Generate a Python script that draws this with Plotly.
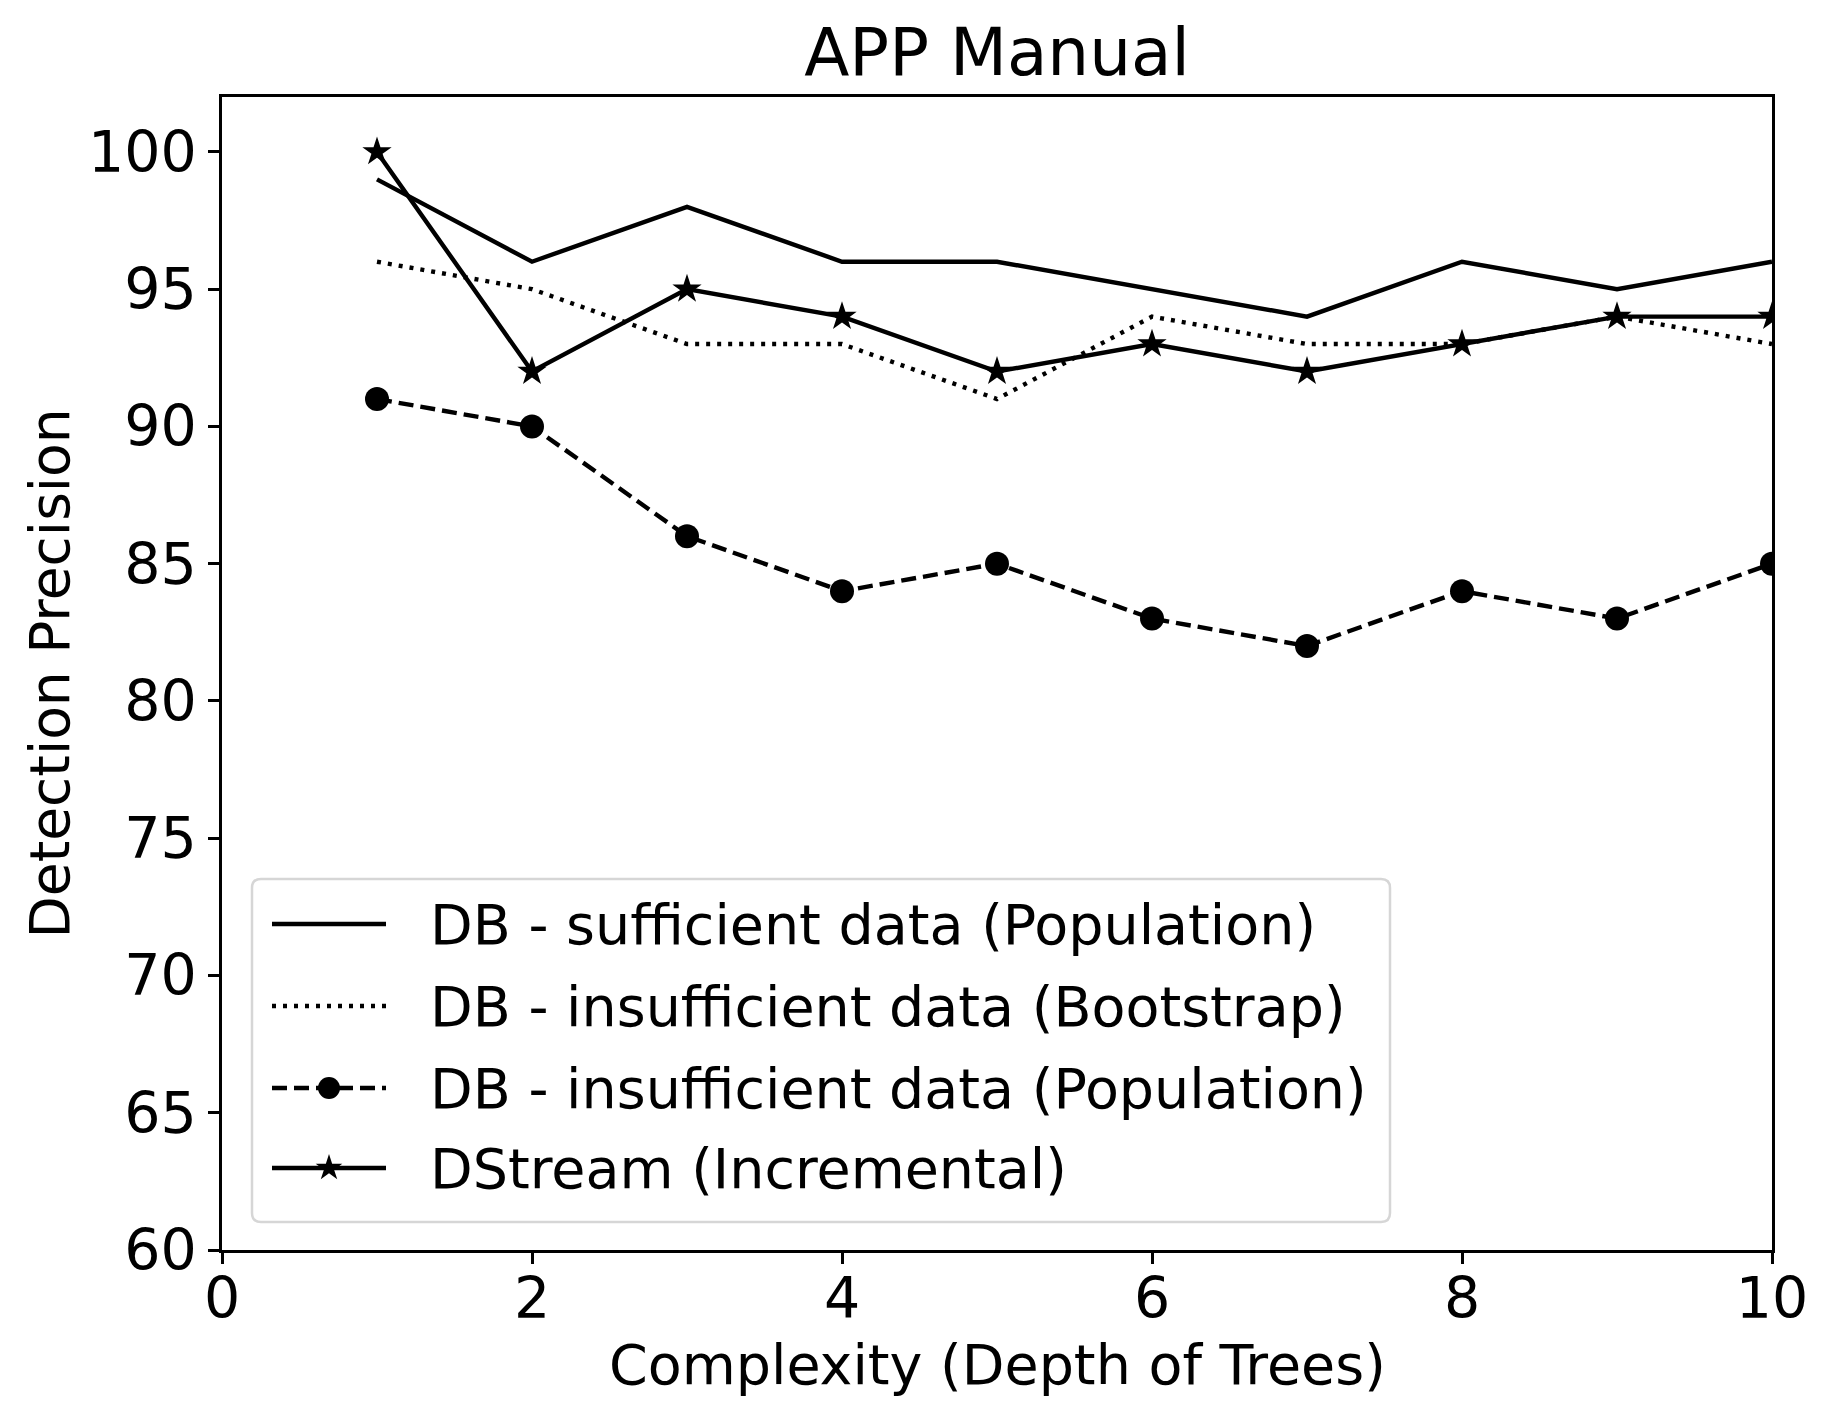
import plotly.graph_objects as go

depth = [1, 2, 3, 4, 5, 6, 7, 8, 9, 10]
db_sufficient_population = [99, 96, 98, 96, 96, 95, 94, 96, 95, 96]
db_insufficient_bootstrap = [96, 95, 93, 93, 91, 94, 93, 93, 94, 93]
db_insufficient_population = [91, 90, 86, 84, 85, 83, 82, 84, 83, 85]
dstream_incremental = [100, 92, 95, 94, 92, 93, 92, 93, 94, 94]

names = [
    "DB - sufficient data (Population)",
    "DB - insufficient data (Bootstrap)",
    "DB - insufficient data (Population)",
    "DStream (Incremental)",
]

FONT = "DejaVu Sans"
LW = 4.4
DOT = "4px,7px"
DASH = "15px,7px"

W, H = 1833, 1422
L, R, T, B = 222, 1772, 97, 1250
pw, ph = R - L, B - T


def px_x(px):
    return (px - L) / pw


def px_y(py):
    return (B - py) / ph


styles = [
    dict(dash="solid", symbol=None, msize=0),
    dict(dash=DOT, symbol=None, msize=0),
    dict(dash=DASH, symbol="circle", msize=24),
    dict(dash="solid", symbol="star", msize=22),
]
series = [db_sufficient_population, db_insufficient_bootstrap,
          db_insufficient_population, dstream_incremental]

fig = go.Figure()
for name, ys, st in zip(names, series, styles):
    kw = dict(x=depth, y=ys, name=name, showlegend=False,
              line=dict(color="black", width=LW, dash=st["dash"]))
    if st["symbol"]:
        kw["mode"] = "lines+markers"
        kw["marker"] = dict(symbol=st["symbol"], size=st["msize"], color="black", opacity=1)
    else:
        kw["mode"] = "lines"
    fig.add_trace(go.Scatter(**kw))

# ---- hand-built legend (matplotlib style: long sample lines) ----
leg_l, leg_r, leg_t, leg_b = 252, 1390, 879, 1222
row_y = [924, 1006, 1088, 1168]
samp_x0, samp_x1 = 272, 386
text_x = 428
rad = 9

x0, x1 = px_x(leg_l), px_x(leg_r)
y0, y1 = px_y(leg_b), px_y(leg_t)
rx, ry = rad / pw, rad / ph
path = (f"M {x0 + rx},{y1} L {x1 - rx},{y1} Q {x1},{y1} {x1},{y1 - ry} "
        f"L {x1},{y0 + ry} Q {x1},{y0} {x1 - rx},{y0} L {x0 + rx},{y0} "
        f"Q {x0},{y0} {x0},{y0 + ry} L {x0},{y1 - ry} Q {x0},{y1} {x0 + rx},{y1} Z")
shapes = [dict(type="path", path=path, xref="paper", yref="paper", layer="below",
               fillcolor="white", line=dict(color="#d6d6d6", width=2.5))]
annotations = []
for name, st, yy in zip(names, styles, row_y):
    shapes.append(dict(type="line", xref="paper", yref="paper", layer="below",
                       x0=px_x(samp_x0), x1=px_x(samp_x1), y0=px_y(yy), y1=px_y(yy),
                       line=dict(color="black", width=LW, dash=st["dash"])))
    annotations.append(dict(text=name, xref="paper", yref="paper", x=px_x(text_x), y=px_y(yy),
                            xanchor="left", yanchor="middle", showarrow=False,
                            font=dict(family=FONT, size=55.5, color="black")))
    if st["symbol"]:
        fig.add_trace(go.Scatter(x=[(samp_x0 + samp_x1) / 2], y=[yy], mode="markers",
                                 xaxis="x2", yaxis="y2", showlegend=False, hoverinfo="skip",
                                 cliponaxis=False,
                                 marker=dict(symbol=st["symbol"], size=st["msize"] - 2,
                                             color="black", opacity=1)))

axis_common = dict(
    showline=True, linecolor="black", linewidth=2.8, mirror=True,
    ticks="outside", ticklen=11, tickwidth=2.8, tickcolor="black",
    showgrid=False, zeroline=False,
    tickfont=dict(family=FONT, size=57, color="black"),
)

annotations += [
    dict(text="Complexity (Depth of Trees)", xref="paper", yref="paper",
         x=0.5, y=-(1364 - B) / ph, xanchor="center", yanchor="middle",
         showarrow=False, font=dict(family=FONT, size=55.5, color="black")),
    dict(text="Detection Precision", xref="paper", yref="paper",
         x=-(L - 49) / pw, y=0.5, xanchor="center", yanchor="middle", textangle=-90,
         showarrow=False, font=dict(family=FONT, size=55, color="black")),
]

fig.update_layout(
    width=W, height=H,
    margin=dict(l=L, r=W - R, t=T, b=H - B),
    paper_bgcolor="white", plot_bgcolor="rgba(0,0,0,0)",
    font=dict(family=FONT, color="black"),
    title=dict(text="APP Manual", x=(L + R) / 2 / W, xanchor="center",
               y=1 - 52 / H, yanchor="middle",
               font=dict(family=FONT, size=66, color="black")),
    xaxis=dict(range=[0, 10], tickvals=[0, 2, 4, 6, 8, 10], ticklabelstandoff=-14, **axis_common),
    yaxis=dict(range=[60, 102], tickvals=[60, 65, 70, 75, 80, 85, 90, 95, 100], ticklabelstandoff=0,
               **axis_common),
    xaxis2=dict(range=[L, R], overlaying="x", visible=False, fixedrange=True),
    yaxis2=dict(range=[B, T], overlaying="y", visible=False, fixedrange=True),
    showlegend=False,
    shapes=shapes,
    annotations=annotations,
)

fig.write_html("out.html")
